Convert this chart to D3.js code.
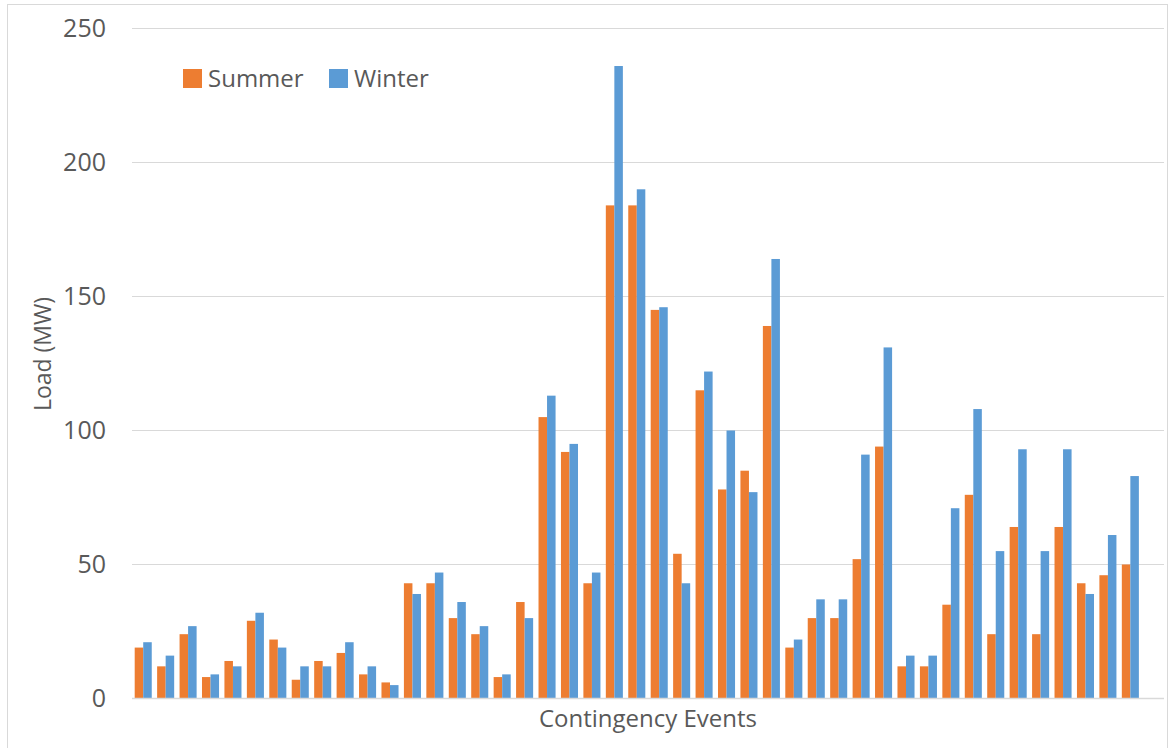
<!DOCTYPE html>
<html>
<head>
<meta charset="utf-8">
<script src="https://cdn.jsdelivr.net/npm/d3@7"></script>
<style>
  body { margin: 0; background: #fff; }
  text { font-family: "Open Sans", "Noto Sans", sans-serif; fill: #595959; }
</style>
</head>
<body>
<svg width="1169" height="748"></svg>
<script>
var svg = d3.select("svg");

// 45 events, plus one empty slot at the end of the axis
var events = d3.range(1, 47).map(function(i) { return "E" + i; });
var seriesNames = ["Summer", "Winter"];
var seriesColors = ["#ED7D31", "#5B9BD5"];

var summer = [19, 12, 24, 8, 14, 29, 22, 7, 14, 17, 9, 6, 43,
  43, 30, 24, 8, 36,
  105, 92, 43, 184, 184, 145,
  54, 115, 78, 85, 139,
  19, 30, 30, 52, 94,
  12, 12, 35, 76, 24, 64, 24, 64, 43, 46, 50, null];
var winter = [21, 16, 27, 9, 12, 32, 19, 12, 12, 21, 12, 5, 39,
  47, 36, 27, 9, 30,
  113, 95, 47, 236, 190, 146,
  43, 122, 100, 77, 164,
  22, 37, 37, 91, 131,
  16, 16, 71, 108, 55, 93, 55, 93, 39, 61, 83, null];
var yTicks = [0, 50, 100, 150, 200, 250];

var plotLeft = 132, plotRight = 1164, plotTop = 28.5, plotBottom = 698.5;

// chart frame
svg.append("rect")
  .attr("x", 7.5).attr("y", 4.5)
  .attr("width", 1160).attr("height", 760)
  .attr("fill", "none")
  .attr("stroke", "#d9d9d9");

var x = d3.scaleBand().domain(events).range([plotLeft, plotRight]).padding(0);
var bw = x.bandwidth();
var gap = bw * 0.24;
var xs = d3.scaleBand().domain(seriesNames).range([gap / 2, bw - gap / 2]).padding(0);
var y = d3.scaleLinear().domain([0, 250]).range([plotBottom, plotTop]);

// gridlines
svg.append("g")
  .selectAll("line")
  .data(yTicks.slice(1))
  .enter().append("line")
  .attr("x1", plotLeft).attr("x2", plotRight)
  .attr("y1", function(d) { return y(d); })
  .attr("y2", function(d) { return y(d); })
  .attr("stroke", "#d9d9d9")
  .attr("stroke-width", 1);

// y tick labels
var yAxis = svg.append("g")
  .attr("transform", "translate(" + (plotLeft - 26) + ",0)")
  .call(d3.axisLeft(y).tickValues(yTicks).tickSize(0).tickPadding(0));
yAxis.select(".domain").remove();
yAxis.selectAll("text")
  .style("font-size", "25px")
  .attr("fill", "#595959")
  .style("font-family", "'Open Sans', sans-serif");

// bars
var rows = events.map(function(e, i) {
  return { event: e, values: [summer[i], winter[i]] };
});

var groups = svg.append("g")
  .selectAll("g")
  .data(rows)
  .enter().append("g")
  .attr("transform", function(d) { return "translate(" + x(d.event) + ",0)"; });

groups.selectAll("rect")
  .data(function(d) {
    return d.values.map(function(v, j) { return { name: seriesNames[j], value: v, color: seriesColors[j] }; })
      .filter(function(b) { return b.value != null; });
  })
  .enter().append("rect")
  .attr("x", function(d) { return xs(d.name); })
  .attr("width", xs.bandwidth())
  .attr("y", function(d) { return y(d.value); })
  .attr("height", function(d) { return y(0) - y(d.value); })
  .attr("fill", function(d) { return d.color; });

// baseline
svg.append("line")
  .attr("x1", plotLeft).attr("x2", plotRight)
  .attr("y1", y(0)).attr("y2", y(0))
  .attr("stroke", "#d9d9d9")
  .attr("stroke-width", 1.5);

// axis titles
svg.append("text")
  .attr("x", (plotLeft + plotRight) / 2)
  .attr("y", 727)
  .attr("text-anchor", "middle")
  .style("font-size", "24px")
  .text("Contingency Events");

svg.append("text")
  .attr("transform", "translate(51,354) rotate(-90)")
  .attr("text-anchor", "middle")
  .style("font-size", "23px")
  .text("Load (MW)");

// legend
var legend = svg.append("g")
  .selectAll("g")
  .data(seriesNames)
  .enter().append("g")
  .attr("transform", function(d, i) { return "translate(" + [183, 329][i] + ",69)"; });

legend.append("rect")
  .attr("width", 19).attr("height", 19)
  .attr("fill", function(d, i) { return seriesColors[i]; });

legend.append("text")
  .attr("x", 25)
  .attr("y", 18)
  .style("font-size", "24px")
  .text(function(d) { return d; });
</script>
</body>
</html>
